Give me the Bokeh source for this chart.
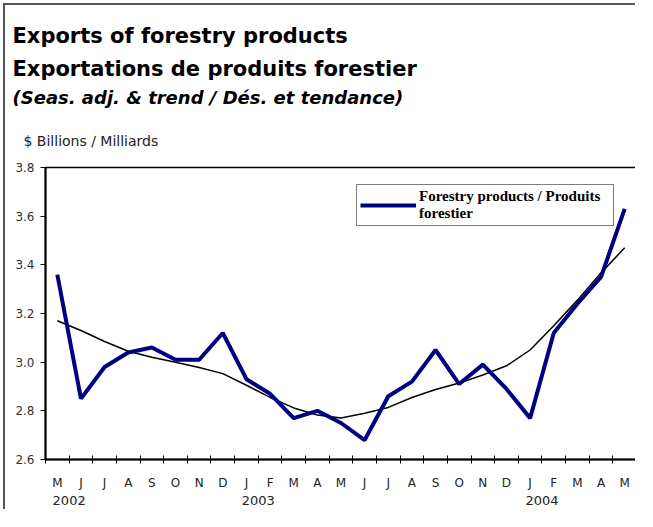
from bokeh.plotting import figure
from bokeh.models import (Range1d, FixedTicker, LinearAxis, Title, Legend, LegendItem,
                          PrintfTickFormatter)
from bokeh.embed import file_html
from bokeh.resources import INLINE

# ---- data ----
months = ["M", "J", "J", "A", "S", "O", "N", "D",
          "J", "F", "M", "A", "M", "J", "J", "A", "S", "O", "N", "D",
          "J", "F", "M", "A", "M"]
month_years = [2002] * 8 + [2003] * 12 + [2004] * 5
forestry = [3.36, 2.85, 2.98, 3.04, 3.06, 3.01, 3.01, 3.12,
            2.93, 2.87, 2.77, 2.80, 2.75, 2.68, 2.86, 2.92, 3.05, 2.91, 2.99, 2.89,
            2.77, 3.12, 3.24, 3.35, 3.63]
trend = [3.17, 3.13, 3.085, 3.045, 3.02, 3.00, 2.978, 2.953,
         2.905, 2.855, 2.812, 2.783, 2.771, 2.79, 2.814, 2.855, 2.888, 2.914, 2.947, 2.985,
         3.05, 3.15, 3.255, 3.367, 3.47]
y_ticks = [2.6, 2.8, 3.0, 3.2, 3.4, 3.6, 3.8]
years = ["2002", "2003", "2004"]

n = len(months)
x = [i + 0.5 for i in range(n)]
# year labels sit on the boundary after the first month of each year
year_pos = [month_years.index(int(yv)) + 1 for yv in years]

p = figure(width=632, height=506, x_range=Range1d(0, n), y_range=Range1d(y_ticks[0], y_ticks[-1]),
           output_backend="svg", toolbar_location=None,
           min_border_left=40, min_border_right=1, min_border_top=0, min_border_bottom=52,
           x_axis_type=None, y_axis_type=None)
p.styles = {"border-left": "2px solid #555555", "border-top": "2px solid #555555",
            "margin-left": "3px", "margin-top": "3px"}
p.xgrid.visible = False
p.ygrid.visible = False
p.outline_line_color = "black"
p.outline_line_width = 1.5
p.background_fill_color = "white"
p.border_fill_color = "white"

# ---- titles (stacked upward from the plot) ----
sub = Title(text="$ Billions / Milliards", align="left", offset=-22, standoff=37,
            text_font="DejaVu Sans", text_font_size="14px", text_font_style="normal",
            text_color="#222222")
t3 = Title(text="(Seas. adj. & trend / Dés. et tendance)", align="left", offset=-33, standoff=9,
           text_font="DejaVu Sans", text_font_size="18px", text_font_style="bold italic",
           text_color="black")
t2 = Title(text="Exportations de produits forestier", align="left", offset=-33, standoff=0,
           text_font="DejaVu Sans", text_font_size="21px", text_font_style="bold",
           text_color="black")
t1 = Title(text="Exports of forestry products", align="left", offset=-33, standoff=13,
           text_font="DejaVu Sans", text_font_size="21px", text_font_style="bold",
           text_color="black")
spacer = Title(text=" ", align="left", standoff=0, text_font="DejaVu Sans", text_font_size="6.5px")
for t in (sub, t3, t2, t1, spacer):
    p.add_layout(t, "above")

# ---- axes ----
yax = LinearAxis(ticker=FixedTicker(ticks=y_ticks), formatter=PrintfTickFormatter(format="%.1f"))
yax.axis_line_width = 2
yax.axis_line_color = "black"
yax.major_tick_out = 5
yax.major_tick_in = 0
yax.major_tick_line_color = "black"
yax.minor_tick_line_color = None
yax.major_label_text_font = "DejaVu Sans"
yax.major_label_text_font_size = "12px"
yax.major_label_text_color = "#333333"
yax.major_label_standoff = 6
p.add_layout(yax, "left")

xax = LinearAxis(ticker=FixedTicker(ticks=x, minor_ticks=list(range(n + 1))),
                 major_label_overrides={xv: m for xv, m in zip(x, months)})
xax.axis_line_width = 2
xax.axis_line_color = "black"
xax.major_tick_out = 0
xax.major_tick_in = 0
xax.major_tick_line_color = None
xax.minor_tick_out = 4
xax.minor_tick_in = 4
xax.minor_tick_line_color = "black"
xax.minor_tick_line_width = 1
xax.major_label_text_font = "DejaVu Sans"
xax.major_label_text_font_size = "12px"
xax.major_label_text_color = "#222222"
xax.major_label_standoff = 12
p.add_layout(xax, "below")

yrax = LinearAxis(ticker=FixedTicker(ticks=year_pos, minor_ticks=[]),
                  major_label_overrides={yp: yl for yp, yl in zip(year_pos, years)})
yrax.axis_line_color = None
yrax.major_tick_line_color = None
yrax.minor_tick_line_color = None
yrax.major_tick_out = 0
yrax.major_tick_in = 0
yrax.major_label_text_font = "DejaVu Sans"
yrax.major_label_text_font_size = "13px"
yrax.major_label_text_color = "#222222"
yrax.major_label_standoff = 3
p.add_layout(yrax, "below")

# ---- series ----
r_trend = p.line(x, trend, line_color="black", line_width=1.5)
r_for = p.line(x, forestry, line_color="#000080", line_width=4)

legend = Legend(items=[LegendItem(label="Forestry products / Produits\nforestier", renderers=[r_for])],
                location=(311, 233), orientation="vertical")
legend.margin = 0
legend.padding = 3
legend.spacing = 0
legend.glyph_width = 56
legend.glyph_height = 18
legend.label_standoff = 3
legend.label_width = 191
legend.label_text_font = "Liberation Serif"
legend.label_text_font_size = "15px"
legend.label_text_font_style = "bold"
legend.label_text_color = "black"
legend.label_text_line_height = 1.1
legend.border_line_color = "black"
legend.border_line_width = 1
legend.background_fill_color = "white"
legend.background_fill_alpha = 1
p.add_layout(legend, "center")

open("out.html", "w").write(file_html(p, INLINE))
